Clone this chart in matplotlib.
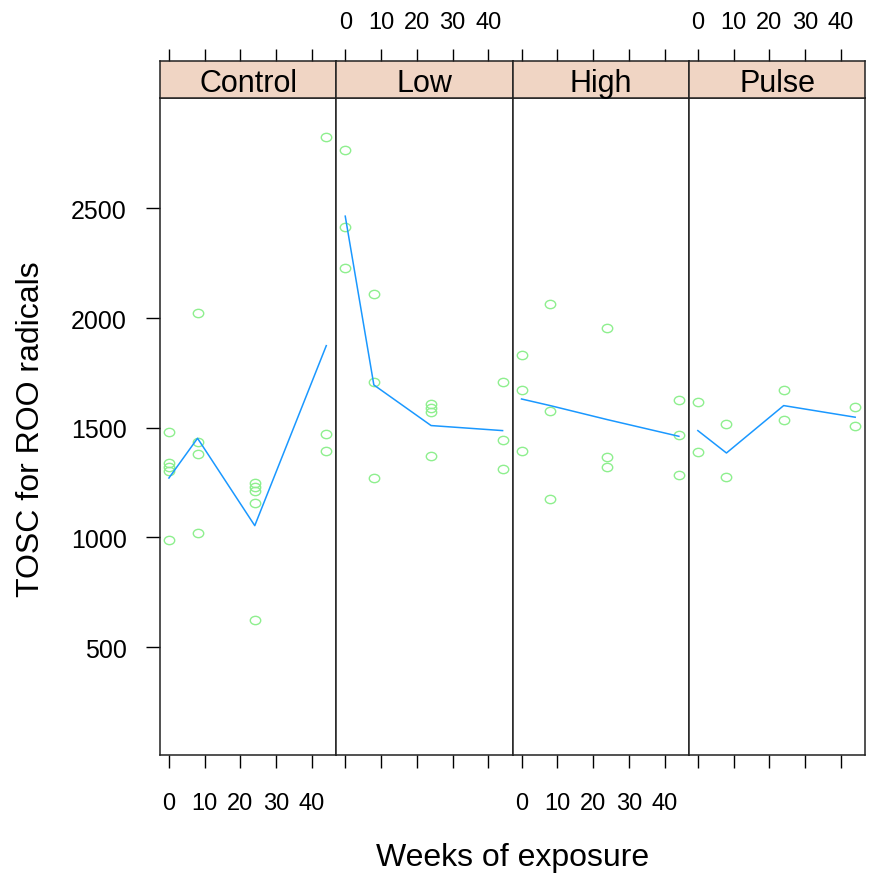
import matplotlib
matplotlib.use('Agg')
import matplotlib.pyplot as plt
from matplotlib.markers import MarkerStyle
from matplotlib.path import Path
from matplotlib.transforms import Affine2D

plt.rcParams['font.family'] = ['Liberation Sans', 'DejaVu Sans']

# Treatment groups and sampling weeks
groups = ['Control', 'Low', 'High', 'Pulse']
weeks = [0, 8, 24, 44]

# Individual TOSC measurements per group
control_x = [0, 0, 0, 0, 0, 8, 8, 8, 8, 24, 24, 24, 24, 24, 44, 44, 44]
control_y = [1481, 1340, 1322, 1305, 989, 2025, 1437, 1381, 1019,
             1247, 1229, 1211, 1156, 624, 2826, 1472, 1396]
low_x = [0, 0, 0, 8, 8, 8, 24, 24, 24, 24, 44, 44, 44]
low_y = [2767, 2416, 2228, 2110, 1710, 1270, 1608, 1590, 1572, 1370,
         1710, 1444, 1312]
high_x = [0, 0, 0, 8, 8, 8, 24, 24, 24, 44, 44, 44]
high_y = [1832, 1674, 1394, 2064, 1575, 1176, 1953, 1368, 1323,
          1628, 1469, 1284]
pulse_x = [0, 0, 8, 8, 24, 24, 44, 44]
pulse_y = [1616, 1388, 1516, 1277, 1674, 1537, 1593, 1507]

# Group averages at each week
control_mean = [1271, 1452, 1054, 1874]
low_mean = [2464, 1695, 1510, 1487]
high_mean = [1631, 1601, 1537, 1461]
pulse_mean = [1487, 1385, 1601, 1548]

points = [(control_x, control_y), (low_x, low_y),
          (high_x, high_y), (pulse_x, pulse_y)]
means = [control_mean, low_mean, high_mean, pulse_mean]

W, H = 869, 878
fig = plt.figure(figsize=(W / 100, H / 100), dpi=100)


def box(x0, y0, x1, y1):
    """Pixel rectangle (top-left origin) to figure fraction."""
    return [x0 / W, 1 - y1 / H, (x1 - x0) / W, (y1 - y0) / H]


pt_col = '#8eef8e'
ln_col = '#1a98ff'
strip_col = '#f0d5c4'
xlim = (-2.5, 46.8)
ylim = (9, 3001)

# slightly flattened open circle, as drawn by the device
ring = MarkerStyle(Path.unit_circle().transformed(Affine2D().scale(1.0, 0.8)))

left, pw = 160, 176.3
top, bottom, strip_top = 99.3, 756, 62

for i, g in enumerate(groups):
    x0 = left + i * pw
    x1 = x0 + pw

    ax = fig.add_axes(box(x0, top, x1, bottom))
    xs, ys = points[i]
    ax.plot(xs, ys, ls='none', marker=ring, ms=7.5, mfc='none',
            mec=pt_col, mew=1.0)
    ax.plot(weeks, means[i], color=ln_col, lw=1.1)
    ax.set_xlim(xlim)
    ax.set_ylim(ylim)
    ax.set_xticks([0, 10, 20, 30, 40])
    ax.tick_params(axis='x', direction='out', length=9.5, width=1.0,
                   labelsize=17, pad=17, labelbottom=(i in (0, 2)))
    if i == 0:
        ax.set_yticks([500, 1000, 1500, 2000, 2500])
        ax.tick_params(axis='y', direction='out', length=10, width=1.0,
                       labelsize=18, pad=14)
    else:
        ax.tick_params(axis='y', left=False, labelleft=False)
    for s in ax.spines.values():
        s.set_linewidth(1.1)
        s.set_color('#222222')

    # strip with the group name, carrying the top axis
    sx = fig.add_axes(box(x0, strip_top, x1, top))
    sx.set_facecolor(strip_col)
    sx.set_xlim(xlim)
    sx.set_ylim(0, 1)
    sx.set_yticks([])
    sx.set_xticks([0, 10, 20, 30, 40])
    sx.xaxis.tick_top()
    sx.tick_params(axis='x', direction='out', length=9, width=1.0,
                   labelsize=17, pad=11, top=True, bottom=False,
                   labeltop=(i in (1, 3)), labelbottom=False)
    for s in sx.spines.values():
        s.set_linewidth(1.1)
        s.set_color('#222222')
    sx.text(0.5, 0.42, g, transform=sx.transAxes, ha='center',
            va='center', fontsize=22)

fig.text(31 / W, 1 - 429 / H, 'TOSC for ROO radicals', rotation=90,
         ha='center', va='center', fontsize=23)
fig.text(513 / W, 1 - 866 / H, 'Weeks of exposure', ha='center',
         va='baseline', fontsize=23)

fig.savefig('out.png', dpi=100)
